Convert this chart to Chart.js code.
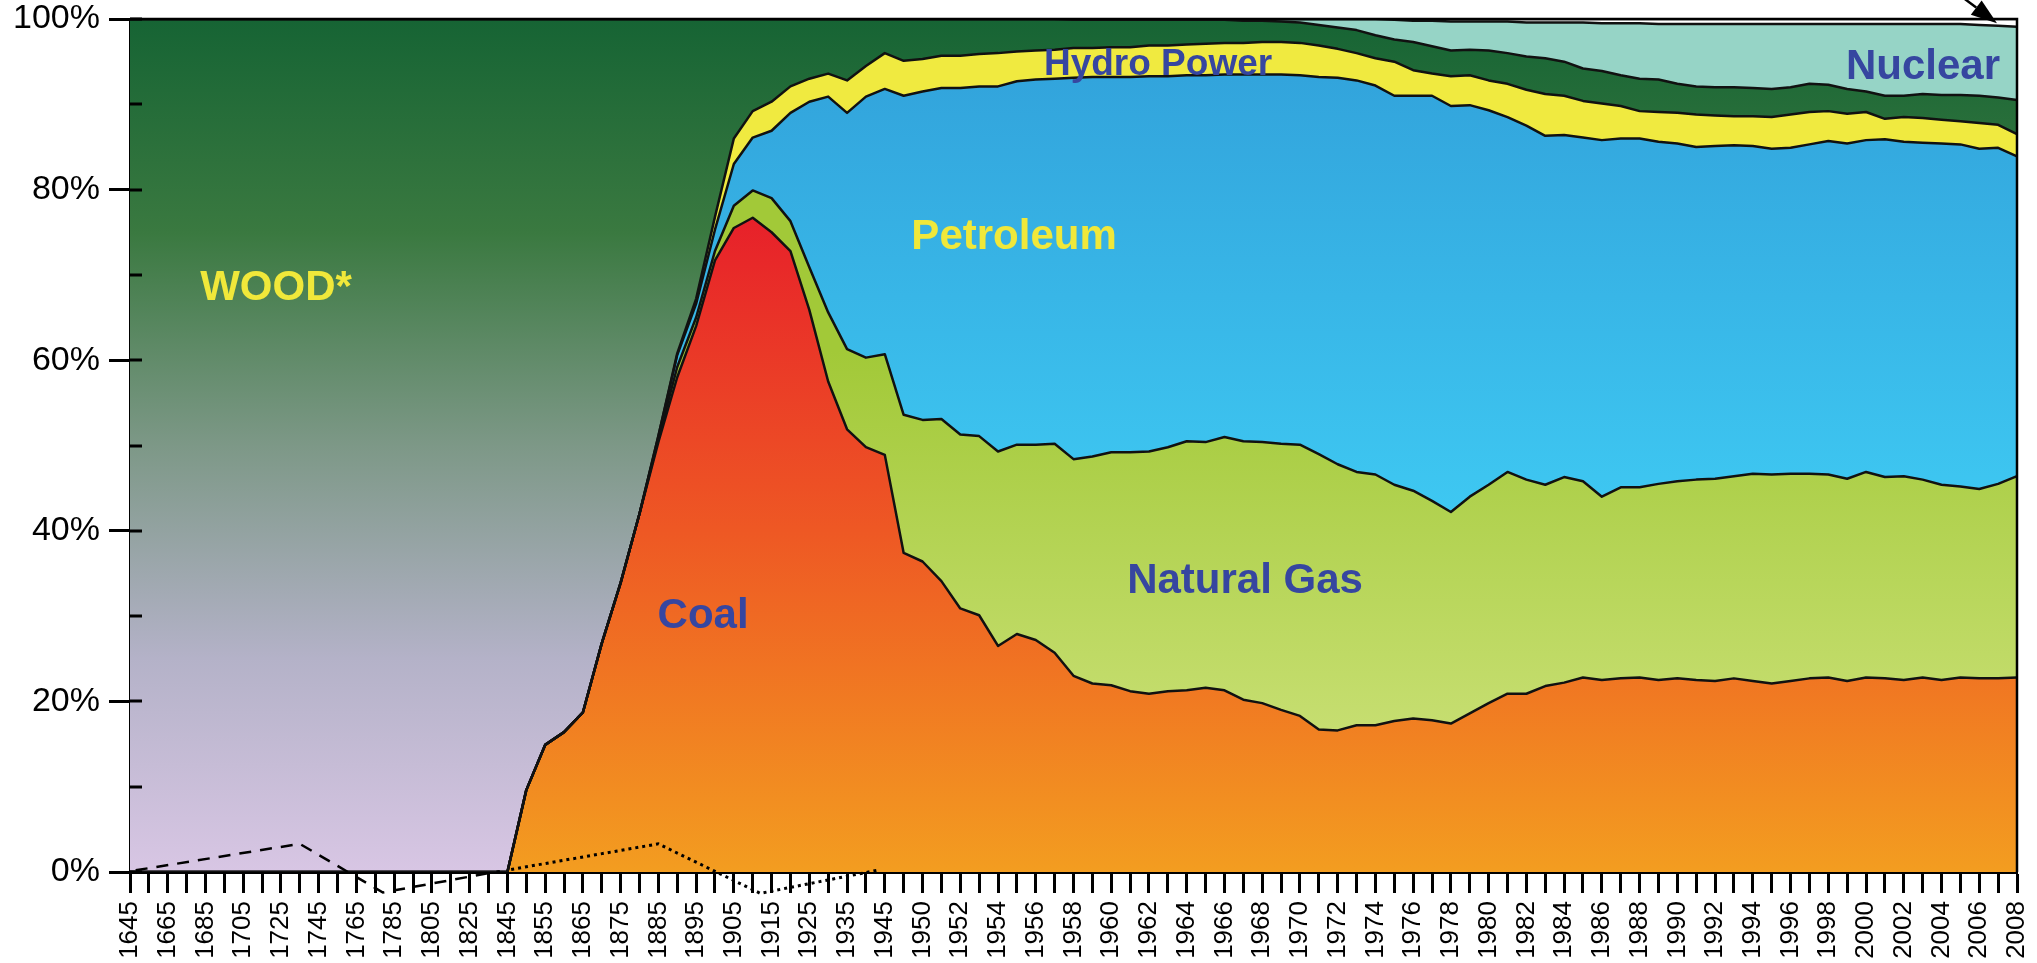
<!DOCTYPE html>
<html><head><meta charset="utf-8">
<script src="https://cdn.jsdelivr.net/npm/chart.js@4.4.1/dist/chart.umd.min.js"></script>
<style>html,body{margin:0;padding:0;background:#fff;overflow:hidden}</style>
</head><body>
<canvas id="c" width="2037" height="963"></canvas>
<script>
// ---- categories (years) ----
const years = [
 1645,1655,1665,1675,1685,1695,1705,1715,1725,1735,
 1745,1755,1765,1775,1785,1795,1805,1815,1825,1835,
 1845,1850,1855,1860,1865,1870,1875,1880,1885,1890,
 1895,1900,1905,1910,1915,1920,1925,1930,1935,1940,
 1945,1949,1950,1951,1952,1953,1954,1955,1956,1957,
 1958,1959,1960,1961,1962,1963,1964,1965,1966,1967,
 1968,1969,1970,1971,1972,1973,1974,1975,1976,1977,
 1978,1979,1980,1981,1982,1983,1984,1985,1986,1987,
 1988,1989,1990,1991,1992,1993,1994,1995,1996,1997,
 1998,1999,2000,2001,2002,2003,2004,2005,2006,2007,
 2008];

// ---- shares of total consumption (%) ----
const coal = [
 0,0,0,0,0,0,0,0,0,0,
 0,0,0,0,0,0,0,0,0,0,
 0,9.6,14.9,16.4,18.7,26.8,33.9,42.0,50.4,58.0,
 64.0,71.7,75.5,76.7,75.0,72.8,65.9,57.5,51.9,49.8,
 48.9,37.4,36.4,34.1,30.9,30.1,26.5,27.9,27.2,25.7,
 23.0,22.1,21.9,21.2,20.9,21.2,21.3,21.6,21.3,20.2,
 19.8,19.0,18.3,16.7,16.6,17.2,17.2,17.7,18.0,17.8,
 17.4,18.6,19.8,20.9,20.9,21.8,22.2,22.8,22.5,22.7,
 22.8,22.5,22.7,22.5,22.4,22.7,22.4,22.1,22.4,22.7,
 22.8,22.4,22.8,22.7,22.5,22.8,22.5,22.8,22.7,22.7,
 22.8];
const naturalGas = [
 0,0,0,0,0,0,0,0,0,0,
 0,0,0,0,0,0,0,0,0,0,
 0,0,0,0,0,0,0,0,0.4,1.2,
 1.0,1.1,2.6,3.2,4.0,3.5,5.0,8.1,9.4,10.5,
 11.8,16.2,16.6,19.0,20.4,21.0,22.8,22.2,22.9,24.5,
 25.4,26.6,27.3,28.0,28.4,28.6,29.2,28.8,29.7,30.3,
 30.6,31.2,31.8,32.3,31.2,29.7,29.4,27.7,26.7,25.7,
 24.8,25.4,25.6,26.0,25.1,23.6,24.1,23.0,21.5,22.4,
 22.3,23.0,23.1,23.5,23.7,23.7,24.3,24.5,24.3,24.0,
 23.8,23.7,24.1,23.6,23.9,23.2,22.9,22.4,22.2,22.8,
 23.6];
const petroleum = [
 0,0,0,0,0,0,0,0,0,0,
 0,0,0,0,0,0,0,0,0,0,
 0,0,0,0,0,0,0,0,0.3,1.4,
 1.6,2.5,4.9,6.2,7.9,12.7,19.4,25.3,27.7,30.6,
 31.1,37.4,38.5,38.8,40.6,41.0,42.8,42.6,42.8,42.8,
 44.7,44.5,44.0,44.0,44.0,43.5,42.9,43.0,42.5,43.0,
 43.1,43.3,43.3,44.2,45.3,45.9,45.6,45.6,46.3,47.5,
 47.6,45.9,43.9,41.6,41.5,40.9,40.1,40.3,41.8,40.9,
 40.9,40.1,39.6,39.0,39.0,38.8,38.4,38.2,38.2,38.6,
 39.1,39.3,38.9,39.6,39.2,39.5,40.0,40.1,39.9,39.4,
 37.5];
const hydro = [
 0,0,0,0,0,0,0,0,0,0,
 0,0,0,0,0,0,0,0,0,0,
 0,0,0,0,0,0,0,0,0,0.2,
 0.6,1.5,3.0,3.1,3.4,3.1,2.7,2.7,3.8,3.6,
 4.2,4.1,3.8,3.8,3.8,3.8,3.9,3.5,3.4,3.4,
 3.5,3.4,3.5,3.5,3.6,3.6,3.6,3.7,3.7,3.7,
 3.8,3.8,3.8,3.7,3.4,3.2,3.2,4.0,3.0,2.6,
 3.5,3.5,3.5,3.9,4.2,4.9,4.6,4.3,4.3,3.8,
 3.2,3.5,3.6,3.8,3.6,3.4,3.5,3.7,3.9,3.8,
 3.5,3.5,3.3,2.4,2.9,2.9,2.8,2.7,3.0,2.7,
 2.6];
const wood = [
 100,100,100,100,100,100,100,100,100,100,
 100,100,100,100,100,100,100,100,100,100,
 100,90.4,85.1,83.6,81.3,73.2,66.1,58.0,48.9,39.2,
 32.8,23.2,14.0,10.8,9.7,7.9,7.0,6.4,7.2,5.5,
 4.0,4.9,4.7,4.3,4.3,4.1,4.0,3.8,3.7,3.6,
 3.3,3.3,3.2,3.2,3.0,3.0,2.9,2.8,2.7,2.6,
 2.5,2.4,2.4,2.4,2.5,2.7,2.7,2.6,3.3,3.2,
 3.0,3.0,3.5,3.6,3.9,4.2,4.0,3.8,3.8,3.6,
 3.8,3.8,3.4,3.3,3.3,3.4,3.3,3.3,3.2,3.3,
 3.1,2.9,2.4,2.7,2.5,2.8,2.9,3.1,3.2,3.2,
 4.0];
const nuclear = [
 0,0,0,0,0,0,0,0,0,0,
 0,0,0,0,0,0,0,0,0,0,
 0,0,0,0,0,0,0,0,0,0,
 0,0,0,0,0,0,0,0,0,0,
 0,0,0,0,0,0,0,0,0,0,
 0.1,0.1,0.1,0.1,0.1,0.1,0.1,0.1,0.1,0.2,
 0.2,0.3,0.4,0.7,1.0,1.3,1.9,2.3,2.5,3.0,
 3.4,3.3,3.4,3.7,4.0,4.2,4.6,5.4,5.6,6.1,
 6.5,6.5,7.0,7.3,7.4,7.4,7.5,7.6,7.4,7.0,
 7.1,7.6,7.9,8.4,8.4,8.2,8.3,8.3,8.3,8.4,
 8.6];
const otherRenewables = [
 0,0,0,0,0,0,0,0,0,0,
 0,0,0,0,0,0,0,0,0,0,
 0,0,0,0,0,0,0,0,0,0,
 0,0,0,0,0,0,0,0,0,0,
 0,0,0,0,0,0,0,0,0,0,
 0,0,0,0,0,0,0,0,0,0,
 0,0,0,0,0,0,0,0.1,0.2,0.2,
 0.3,0.3,0.3,0.3,0.4,0.4,0.4,0.4,0.5,0.5,
 0.5,0.6,0.6,0.6,0.6,0.6,0.6,0.6,0.6,0.6,
 0.6,0.6,0.6,0.6,0.6,0.6,0.6,0.6,0.7,0.8,
 0.9];

// ---- period brace lines (category-index position, %) ----
const woodEraX = [0.3, 9, 13.4, 19.6];
const woodEraY = [0.2, 3.3, -2.4, 0.1];
const coalEraX = [20.2, 28, 33.4, 39.6];
const coalEraY = [0.3, 3.3, -2.5, 0.2];

// ---- y tick values ----
const yTickStep = 10;
const yLabelEvery = 20;

const FONT = '"Liberation Sans", Arial, Helvetica, sans-serif';
Chart.defaults.font.family = FONT;

function vgrad(ctx, stops, fallback) {
  const chart = ctx.chart;
  const ys = chart.scales && chart.scales.y;
  if (!chart.chartArea || !ys) return fallback;
  const y0 = ys.getPixelForValue(stops[0][0]);
  const y1 = ys.getPixelForValue(stops[stops.length - 1][0]);
  const g = chart.ctx.createLinearGradient(0, y0, 0, y1);
  stops.forEach(s => {
    let t = (ys.getPixelForValue(s[0]) - y0) / (y1 - y0);
    g.addColorStop(Math.min(1, Math.max(0, t)), s[1]);
  });
  return g;
}

const area = { borderColor: '#111', borderWidth: 2.5, pointRadius: 0, pointHoverRadius: 0, tension: 0, borderJoinStyle: 'round' };

const textMarks = [
  { text: 'WOOD*', x: 7.74, y: 67.1, size: 42, color: 'rgb(240,232,58)' },
  { text: 'Coal', x: 30.37, y: 28.6, size: 42, color: 'rgb(54,70,160)' },
  { text: 'Petroleum', x: 46.85, y: 73.0, size: 42, color: 'rgb(240,232,58)' },
  { text: 'Natural Gas', x: 59.09, y: 32.75, size: 42, color: 'rgb(54,70,160)' },
  { text: 'Hydro Power', x: 54.48, y: 93.4, size: 37, color: 'rgb(54,70,160)' },
  { text: 'Nuclear', x: 95.02, y: 92.96, size: 42, color: 'rgb(54,70,160)' }
];

const decor = {
  id: 'decor',
  afterDatasetsDraw(chart) {
    const { ctx, chartArea: a, scales } = chart;
    const ys = scales.y, xs = scales.xb;
    ctx.save();
    ctx.strokeStyle = '#000';
    ctx.lineWidth = 3;
    for (let v = 0; v <= 100; v += yTickStep) {
      const py = Math.round(ys.getPixelForValue(v));
      ctx.beginPath(); ctx.moveTo(a.left, py); ctx.lineTo(a.left + 12, py); ctx.stroke();
    }
    ctx.lineWidth = 2.5;
    ctx.beginPath(); ctx.moveTo(a.left, a.top); ctx.lineTo(a.right, a.top); ctx.lineTo(a.right, a.bottom); ctx.stroke();

    ctx.textAlign = 'center';
    ctx.textBaseline = 'alphabetic';
    textMarks.forEach(m => {
      ctx.font = 'bold ' + m.size + 'px ' + FONT;
      ctx.fillStyle = m.color;
      ctx.fillText(m.text, xs.getPixelForValue(m.x), ys.getPixelForValue(m.y));
    });

    // arrow to the thin top band
    const sx = xs.getPixelForValue(97.08), sy = ys.getPixelForValue(102.6);
    const tx = xs.getPixelForValue(98.94), ty = ys.getPixelForValue(99.5);
    const ang = Math.atan2(ty - sy, tx - sx);
    const hl = 26, hw = 9;
    const bx = tx - hl * Math.cos(ang), by = ty - hl * Math.sin(ang);
    ctx.lineWidth = 2.5;
    ctx.beginPath(); ctx.moveTo(sx, sy); ctx.lineTo(bx, by); ctx.stroke();
    ctx.fillStyle = '#000';
    ctx.beginPath();
    ctx.moveTo(tx, ty);
    ctx.lineTo(bx + hw * Math.sin(ang), by - hw * Math.cos(ang));
    ctx.lineTo(bx - hw * Math.sin(ang), by + hw * Math.cos(ang));
    ctx.closePath(); ctx.fill();
    ctx.restore();
  }
};

new Chart(document.getElementById('c'), {
  type: 'line',
  data: {
    labels: years.map(String),
    datasets: [
      Object.assign({ label: 'Coal', data: coal, fill: 'origin',
        backgroundColor: c => vgrad(c, [[77, 'rgb(231,32,42)'], [40, 'rgb(238,88,36)'], [0, 'rgb(243,157,32)']], '#ee6a2a') }, area),
      Object.assign({ label: 'Natural Gas', data: naturalGas, fill: '-1',
        backgroundColor: c => vgrad(c, [[61, 'rgb(162,201,56)'], [17, 'rgb(198,222,112)']], '#b0d050') }, area),
      Object.assign({ label: 'Petroleum', data: petroleum, fill: '-1',
        backgroundColor: c => vgrad(c, [[93, 'rgb(50,164,220)'], [42, 'rgb(62,200,242)']], '#3ab8e8') }, area),
      Object.assign({ label: 'Hydro Power', data: hydro, fill: '-1', backgroundColor: 'rgb(240,234,64)' }, area),
      Object.assign({ label: 'Wood', data: wood, fill: '-1',
        backgroundColor: c => vgrad(c, [[100, 'rgb(22,100,52)'], [75, 'rgb(58,121,64)'], [50, 'rgb(125,152,135)'], [25, 'rgb(180,178,200)'], [0, 'rgb(216,198,228)']], '#3a7a48') }, area),
      Object.assign({ label: 'Nuclear', data: nuclear, fill: '-1', backgroundColor: 'rgb(150,212,198)' }, area),
      Object.assign({ label: 'Other', data: otherRenewables, fill: '-1', backgroundColor: '#ffffff' }, area),
      { label: 'wood era', data: woodEraX.map((x, i) => ({ x, y: woodEraY[i] })), xAxisID: 'xb', yAxisID: 'yb',
        borderColor: '#000', borderWidth: 2.5, borderDash: [12, 9], pointRadius: 0, fill: false, clip: false, order: -1 },
      { label: 'coal era', data: coalEraX.map((x, i) => ({ x, y: coalEraY[i] })), xAxisID: 'xb', yAxisID: 'yb',
        borderColor: '#000', borderWidth: 3, borderDash: [3, 4], pointRadius: 0, fill: false, clip: false, order: -1 }
    ]
  },
  options: {
    responsive: false,
    devicePixelRatio: 1,
    animation: false,
    layout: { padding: { top: 19, right: 20, left: 0, bottom: 0 } },
    plugins: {
      legend: { display: false },
      tooltip: { enabled: false },
      filler: { drawTime: 'beforeDatasetsDraw' }
    },
    scales: {
      x: {
        type: 'category', offset: false,
        grid: { display: true, drawOnChartArea: false, drawTicks: true, tickLength: 21, tickWidth: 3, tickColor: '#000', offset: false },
        border: { display: true, color: '#000', width: 3 },
        ticks: { autoSkip: false, minRotation: 90, maxRotation: 90, padding: 8, color: '#000',
          font: { size: 26, family: FONT },
          callback: (v, i) => (i % 2 === 0 ? String(years[i]) : '') },
        afterFit: s => { s.height = 91; s.paddingLeft = 0; s.paddingRight = 0; }
      },
      y: {
        stacked: true, min: 0, max: 100,
        grid: { display: true, drawOnChartArea: false, drawTicks: true, tickLength: 21, tickWidth: 3,
          tickColor: c => (c.tick && c.tick.value % yLabelEvery === 0 ? '#000' : 'rgba(0,0,0,0)') },
        border: { display: true, color: '#000', width: 3 },
        ticks: { stepSize: yTickStep, padding: 9, color: '#000', font: { size: 34, family: FONT },
          callback: v => (v % yLabelEvery === 0 ? v + '%' : '') },
        afterFit: s => { s.width = 130; s.paddingTop = 0; s.paddingBottom = 0; }
      },
      xb: { type: 'linear', axis: 'x', position: 'bottom', display: false, min: 0, max: 100 },
      yb: { type: 'linear', axis: 'y', position: 'left', display: false, min: 0, max: 100 }
    }
  },
  plugins: [decor]
});
</script>
</body></html>
